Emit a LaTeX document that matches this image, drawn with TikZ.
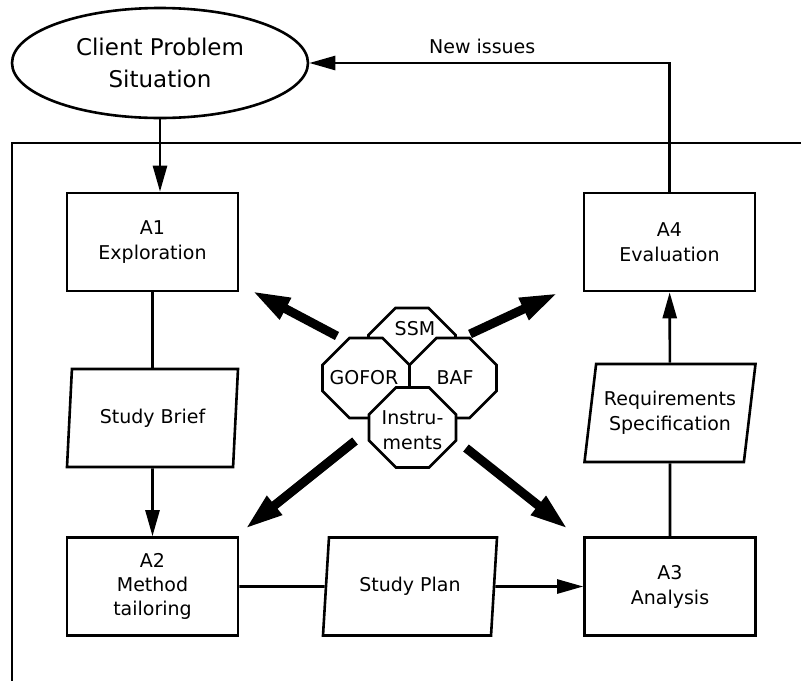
\documentclass[tikz,border=0pt]{standalone}
\usepackage{fontspec}
\setmainfont{DejaVu Sans}
\usetikzlibrary{arrows.meta,shapes.geometric}

\begin{document}
\begin{tikzpicture}[x=1pt, y=-1pt, line width=2.6pt,
    font=\fontsize{19}{25}\selectfont,
    box/.style={draw, rectangle, minimum width=171pt, minimum height=98pt,
        align=center, inner sep=0pt},
    doc/.style={draw, trapezium, trapezium left angle=75, trapezium right angle=105,
        trapezium stretches body=true, minimum width=171pt, minimum height=98pt,
        align=center, inner sep=0pt},
    octagon/.pic={
        \path[draw, fill=white] (-43.5,-13) -- (-16.5,-40) -- (16.5,-40) -- (43.5,-13)
            -- (43.5,13) -- (16.5,40) -- (-16.5,40) -- (-43.5,13) -- cycle;
    },
    flow/.style={-{Triangle[length=26pt,width=14pt]}},
    push/.style={line width=9pt, -{Triangle[length=38pt,width=22pt]}}]
    \useasboundingbox (0,0) rectangle (801,681);

    \node[draw, ellipse, minimum width=296pt, minimum height=110pt, inner sep=0pt,
        align=center, font=\fontsize{23}{32}\selectfont] (client) at (160,63)
        {Client Problem\\Situation};

    % the four activities
    \node[box] (a1) at (152.5,242) {A1\\Exploration};
    \node[box] (a4) at (669.5,242) {A4\\Evaluation};
    \node[box, font=\fontsize{19}{24}\selectfont] (a2) at (152.5,586.5) {A2\\Method\\tailoring};
    \node[box] (a3) at (670,586.5) {A3\\Analysis};

    % documents passed between them
    \node[doc] (brief) at (152.5,418) {Study Brief};
    \node[doc] (req) at (670,413) {Requirements\\Specification};
    \node[doc, minimum width=174pt, trapezium left angle=72, trapezium right angle=108]
        (plan) at (410,586.5) {Study Plan};

    % methods in the middle, back to front
    \pic at (412,348) {octagon};
    \node (ssm) at (415,329) {SSM};
    \pic at (366,378) {octagon};
    \node (gofor) at (364,378) {GOFOR};
    \pic at (453,378) {octagon};
    \node (baf) at (455,378) {BAF};
    \pic at (412.5,427.5) {octagon};
    \node[align=center] (instr) at (412.5,430) {Instru-\\ments};

    \draw (801,143) -- (12,143) -- (12,681);

    \draw[flow] (client) -- (client |- a1.north);
    \draw (a1) -- (brief);
    \draw[flow] (brief) -- (a2);
    \draw (a2) -- (plan);
    \draw[flow] (plan) -- (a3);
    \draw (a3) -- (req);
    \draw[flow] (req) -- (a4);
    \draw[flow] (a4.north) |- node[pos=0.76, above=5pt] (newIssues) {New issues} (client);

    \coordinate (ulTail) at (337,336);
    \coordinate (ulTip) at (252,291);
    \coordinate (urTail) at (470,334);
    \coordinate (urTip) at (558,293);
    \coordinate (llTail) at (355,441);
    \coordinate (llTip) at (245,529);
    \coordinate (lrTail) at (466,448);
    \coordinate (lrTip) at (568,529);
    \draw[push] (ulTail) -- (ulTip);
    \draw[push] (urTail) -- (urTip);
    \draw[push] (llTail) -- (llTip);
    \draw[push] (lrTail) -- (lrTip);
\end{tikzpicture}
\end{document}
